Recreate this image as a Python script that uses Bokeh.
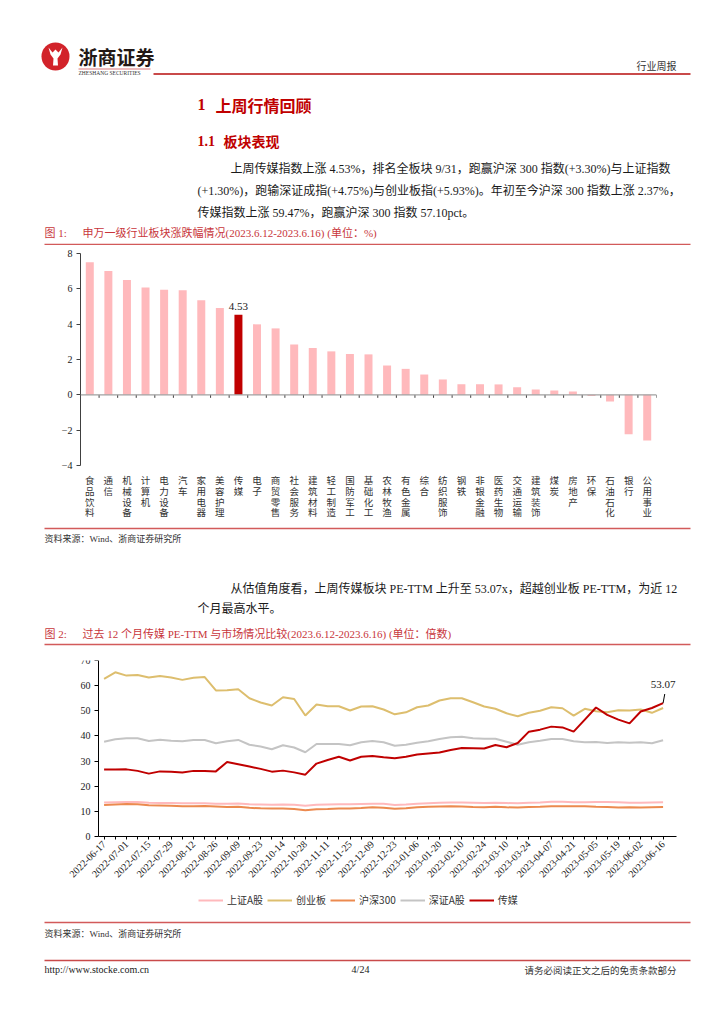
from math import pi
from bokeh.plotting import figure
from bokeh.layouts import column
from bokeh.models import (Range1d, FactorRange, FixedTicker, Legend, LegendItem,
                          Span, ColumnDataSource)
from bokeh.core.properties import value
from bokeh.embed import file_html
from bokeh.resources import INLINE

# ---------------- data ----------------
categories = ["食品饮料", "通信", "机械设备", "计算机", "电力设备", "汽车", "家用电器", "美容护理",
              "传媒", "电子", "商贸零售", "社会服务", "建筑材料", "轻工制造", "国防军工", "基础化工",
              "农林牧渔", "有色金属", "综合", "纺织服饰", "钢铁", "非银金融", "医药生物", "交通运输",
              "建筑装饰", "煤炭", "房地产", "环保", "石油石化", "银行", "公用事业"]
changes = [7.50, 7.01, 6.50, 6.07, 5.95, 5.92, 5.35, 4.91,
           4.53, 3.99, 3.76, 2.85, 2.65, 2.46, 2.31, 2.29,
           1.66, 1.47, 1.15, 0.87, 0.60, 0.60, 0.59, 0.43,
           0.30, 0.25, 0.19, -0.06, -0.38, -2.23, -2.59]
highlight = "传媒"
bar_ticks = [-4, -2, 0, 2, 4, 6, 8]

dates = ["2022-06-17", "2022-06-24", "2022-07-01", "2022-07-08", "2022-07-15", "2022-07-22",
         "2022-07-29", "2022-08-05", "2022-08-12", "2022-08-19", "2022-08-26", "2022-09-02",
         "2022-09-09", "2022-09-16", "2022-09-23", "2022-09-30", "2022-10-14", "2022-10-21",
         "2022-10-28", "2022-11-04", "2022-11-11", "2022-11-18", "2022-11-25", "2022-12-02",
         "2022-12-09", "2022-12-16", "2022-12-23", "2022-12-30", "2023-01-06", "2023-01-13",
         "2023-01-20", "2023-02-03", "2023-02-10", "2023-02-17", "2023-02-24", "2023-03-03",
         "2023-03-10", "2023-03-17", "2023-03-24", "2023-03-31", "2023-04-07", "2023-04-14",
         "2023-04-21", "2023-04-28", "2023-05-05", "2023-05-12", "2023-05-19", "2023-05-26",
         "2023-06-02", "2023-06-09", "2023-06-16"]
sh_a = [13.5, 13.6, 13.7, 13.7, 13.4, 13.3, 13.3, 13.2, 13.2, 13.2,
        13.0, 13.0, 13.1, 12.8, 12.7, 12.6, 12.7, 12.6, 12.2, 12.6,
        12.7, 12.8, 12.8, 12.9, 13.0, 13.0, 12.5, 12.7, 13.0, 13.2,
        13.4, 13.5, 13.5, 13.4, 13.3, 13.4, 13.3, 13.2, 13.4, 13.5,
        13.8, 13.8, 13.6, 13.6, 13.7, 13.7, 13.6, 13.4, 13.4, 13.5, 13.6]
cyb = [62.7, 65.3, 64.0, 64.2, 63.2, 63.8, 63.2, 62.3, 63.1, 63.4,
       58.1, 58.2, 58.6, 55.0, 53.3, 52.1, 55.4, 54.7, 48.1, 52.5,
       51.8, 51.8, 50.1, 51.7, 51.8, 50.5, 48.6, 49.4, 51.4, 52.1,
       54.1, 55.0, 55.0, 53.4, 51.7, 50.8, 49.0, 47.8, 49.2, 50.0,
       51.4, 51.0, 48.1, 50.8, 49.8, 49.4, 50.2, 50.1, 50.5, 49.2, 51.1]
hs300 = [12.5, 12.7, 12.9, 12.8, 12.4, 12.3, 12.2, 12.0, 12.0, 12.1,
         11.9, 11.7, 11.8, 11.4, 11.2, 11.1, 11.1, 10.9, 10.4, 10.8,
         10.9, 11.1, 11.1, 11.3, 11.6, 11.4, 11.0, 11.2, 11.6, 11.8,
         11.9, 12.0, 11.9, 11.7, 11.6, 11.8, 11.6, 11.5, 11.7, 11.8,
         12.0, 12.0, 12.0, 12.0, 11.8, 11.7, 11.5, 11.6, 11.5, 11.6, 11.7]
sz_a = [37.7, 38.7, 39.1, 39.1, 38.0, 38.5, 38.1, 37.9, 38.4, 38.4,
        37.1, 37.9, 38.4, 36.5, 35.8, 34.7, 36.3, 35.4, 33.5, 36.8,
        36.8, 36.8, 36.3, 37.5, 38.0, 37.5, 36.1, 36.5, 37.3, 37.9,
        38.8, 39.5, 39.7, 39.1, 38.9, 38.9, 37.7, 36.5, 37.5, 38.1,
        38.8, 38.8, 37.9, 37.5, 37.6, 37.2, 37.5, 37.3, 37.5, 37.1, 38.3]
media = [26.6, 26.6, 26.7, 26.1, 25.0, 25.9, 25.8, 25.5, 26.1, 26.1,
         25.9, 29.6, 28.7, 27.8, 26.9, 25.8, 26.2, 25.5, 24.6, 29.0,
         30.4, 31.7, 30.2, 31.7, 32.0, 31.5, 31.1, 31.7, 32.6, 33.0,
         33.4, 34.4, 35.2, 35.1, 35.0, 36.4, 35.5, 37.2, 41.7, 42.5,
         43.7, 43.4, 41.7, 46.5, 51.3, 48.4, 46.5, 45.0, 49.7, 51.1, 53.07]
series_names = ["上证A股", "创业板", "沪深300", "深证A股", "传媒"]
pe_ticks = [0, 10, 20, 30, 40, 50, 60, 70]

# ---------------- styles ----------------
SERIF = "'Liberation Serif', 'Noto Sans CJK SC'"
CJK = "'Noto Sans CJK SC'"
W = 724
RED = "#C00000"
CAP = "#C8363B"
RULE = "#D25A5A"
series_colors = ["#FFB9BC", "#DDBE6E", "#EC8A4F", "#C4C4C4", "#C00000"]


def page_fig(y0, y1):
    p = figure(width=W, height=y1 - y0, x_range=Range1d(0, W), y_range=Range1d(y1, y0),
               x_axis_type=None, y_axis_type=None, toolbar_location=None,
               output_backend="svg", min_border=0, frame_align=False)
    p.outline_line_color = None
    return p


def txt(p, x, y, s, size, color="#1a1a1a", font=SERIF, align="left", bold=False, **kw):
    p.text(x=[x], y=[y], text=[s], text_font=value(font), text_font_size=f"{size}px",
           text_color=color, text_align=align, text_baseline="middle",
           text_font_style="bold" if bold else "normal", **kw)


def rule(p, x0, x1, y, color=RULE, w=1.5, **kw):
    p.segment(x0=[x0], y0=[y], x1=[x1], y1=[y], line_color=color, line_width=w, **kw)


# ---------------- A: header and text ----------------
pA = page_fig(0, 245)
pA.scatter(x=[55], y=[56], size=28, marker="circle", fill_color="#D2232A", line_color=None)
pA.patch(x=[48, 52, 55, 58, 62, 60, 57, 57.5, 52.5, 53, 50],
         y=[47, 52, 49, 52, 47, 54, 58, 65, 65, 58, 54], fill_color="white", line_color=None)
txt(pA, 78, 56, "浙商证券", 19, color="#231815", font=CJK, bold=True)
rule(pA, 78, 150, 68.5, color="#E7A3A6", w=1.5)
txt(pA, 78, 72.5, "ZHESHANG SECURITIES", 5.5, color="#333333", font="Liberation Serif")
rule(pA, 153, 690, 73.5, color="#C94A4A", w=2.2)
txt(pA, 676, 65, "行业周报", 10, color="#333333", font=CJK, align="right")

txt(pA, 197, 104, "1", 16, color=RED, bold=True)
txt(pA, 215, 104, "上周行情回顾", 16, color=RED, font=CJK, bold=True)
txt(pA, 197, 140, "1.1", 14, color=RED, bold=True)
txt(pA, 223, 140, "板块表现", 14, color=RED, font=CJK, bold=True)

txt(pA, 230, 168, "上周传媒指数上涨 4.53%，排名全板块 9/31，跑赢沪深 300 指数(+3.30%)与上证指数", 12)
txt(pA, 197, 190, "(+1.30%)，跑输深证成指(+4.75%)与创业板指(+5.93%)。年初至今沪深 300 指数上涨 2.37%，", 12)
txt(pA, 197, 212, "传媒指数上涨 59.47%，跑赢沪深 300 指数 57.10pct。", 12)

txt(pA, 44, 232, "图 1:", 11, color=CAP)
txt(pA, 82, 232, "申万一级行业板块涨跌幅情况(2023.6.12-2023.6.16) (单位：%)", 11, color=CAP)
rule(pA, 44, 690, 244)

# ---------------- B: bar chart ----------------
px_per_unit = 212 / 12.0
ylo = -4 - (524 - 465) / px_per_unit
pB = figure(width=W, height=279, x_range=FactorRange(factors=categories, range_padding=0),
            y_range=Range1d(ylo, 8), toolbar_location=None, output_backend="svg",
            x_axis_location=None, min_border_left=80, min_border_right=68,
            min_border_top=8, min_border_bottom=0, frame_align=False)
pB.outline_line_color = None
pB.grid.visible = False
bar_colors = [RED if c == highlight else "#FFB9BC" for c in categories]
srcB = ColumnDataSource(dict(cat=categories, val=changes, color=bar_colors))
pB.vbar(x="cat", top="val", bottom=0, width=0.43, fill_color="color", line_color=None, source=srcB)
pB.add_layout(Span(location=0, dimension="width", line_color="#A0A0A0", line_width=1.2))
bounds = list(range(len(categories) + 1))
pB.segment(x0=bounds, y0=[0] * len(bounds), x1=bounds, y1=[-0.17] * len(bounds),
           line_color="#404040", line_width=1)
pB.text(x=categories, y=[-4.45] * len(categories), text=["\n".join(c) for c in categories],
        text_font=value(CJK), text_font_size="9.5px", text_color="#333333",
        text_align="center", text_baseline="top", text_line_height=0.76)
hi = categories.index(highlight)
pB.text(x=[highlight], y=[changes[hi]], text=[f"{changes[hi]:.2f}"], y_offset=-5,
        text_font=value("Liberation Serif"), text_font_size="11px", text_color="#1a1a1a",
        text_align="center", text_baseline="bottom")
ya = pB.yaxis[0]
ya.bounds = (-4, 8)
ya.ticker = FixedTicker(ticks=bar_ticks)
ya.minor_tick_line_color = None
ya.major_tick_in = 0
ya.major_tick_out = 4
ya.axis_line_color = "#404040"
ya.major_tick_line_color = "#404040"
ya.major_label_text_font = "Liberation Serif"
ya.major_label_text_font_size = "10px"
ya.major_label_text_color = "#1a1a1a"
ya.major_label_standoff = 4

# ---------------- C: middle text ----------------
pC = page_fig(524, 650)
rule(pC, 44, 690, 528)
txt(pC, 44, 538, "资料来源：Wind、浙商证券研究所", 9, color="#333333")
txt(pC, 230, 588, "从估值角度看，上周传媒板块 PE-TTM 上升至 53.07x，超越创业板 PE-TTM，为近 12", 12)
txt(pC, 197, 608, "个月最高水平。", 12)
txt(pC, 44, 633, "图 2:", 11, color=CAP)
txt(pC, 82, 633, "过去 12 个月传媒 PE-TTM 与市场情况比较(2023.6.12-2023.6.16) (单位：倍数)", 11, color=CAP)
rule(pC, 44, 690, 644)

# ---------------- D: line chart + footer ----------------
D_TOP = 650
FL, FR, FT, FB = 30, 694, 660, 977           # frame box on the page
AX_L, AX_R, AX_0 = 98, 676, 836              # where the axes sit on the page
x_lo, x_hi = -0.5, 51.2
ppx = (AX_R - AX_L) / (x_hi - x_lo)
ppy = (AX_0 - FT) / 70.0
pD = figure(width=W, height=1024 - D_TOP,
            x_range=Range1d(x_lo - (AX_L - FL) / ppx, x_hi + (FR - AX_R) / ppx),
            y_range=Range1d(-(FB - AX_0) / ppy, 70),
            toolbar_location=None, output_backend="svg",
            min_border_left=FL, min_border_right=W - FR, min_border_top=FT - D_TOP,
            min_border_bottom=1024 - FB, frame_align=False)
pD.extra_x_ranges = {"px": Range1d(FL, FR)}
pD.extra_y_ranges = {"px": Range1d(FB, FT)}
pD.outline_line_color = None
pD.grid.visible = False
xs = list(range(len(dates)))
items = []
for name, vals, col in zip(series_names, [sh_a, cyb, hs300, sz_a, media], series_colors):
    r = pD.line(x=xs, y=vals, line_color=col, line_width=2)
    items.append(LegendItem(label=name, renderers=[r]))
pD.segment(x0=[xs[-1]], y0=[media[-1]], x1=[xs[-1] + 0.15], y1=[media[-1] + 3.6],
           line_color="black", line_width=1)
pD.text(x=[xs[-1]], y=[media[-1]], text=[f"{media[-1]:.2f}"], y_offset=-19,
        text_font=value("Liberation Serif"), text_font_size="11px", text_color="#1a1a1a",
        text_align="center", text_baseline="middle")
xa = pD.xaxis[0]
xa.fixed_location = 0
xa.bounds = (x_lo, x_hi)
xa.ticker = FixedTicker(ticks=xs)
xa.major_label_overrides = {i: (dates[i] if i % 2 == 0 else "") for i in xs}
xa.major_label_orientation = pi / 4
xa.minor_tick_line_color = None
xa.major_tick_in = 0
xa.major_tick_out = 3
xa.major_label_standoff = 3
yb = pD.yaxis[0]
yb.fixed_location = x_lo
yb.bounds = (0, 70)
yb.ticker = FixedTicker(ticks=pe_ticks)
yb.minor_tick_line_color = None
yb.major_tick_in = 0
yb.major_tick_out = 4
yb.major_label_standoff = 4
for ax in (xa, yb):
    ax.axis_line_color = "black"
    ax.major_tick_line_color = "black"
    ax.major_label_text_font = "Liberation Serif"
    ax.major_label_text_font_size = "10px"
    ax.major_label_text_color = "#1a1a1a"
legend = Legend(items=items, orientation="horizontal", location=(198 - FL, FB - 907),
                border_line_color=None, background_fill_alpha=0, padding=2, margin=0,
                spacing=4, glyph_width=25, glyph_height=12, label_height=12, label_standoff=4,
                label_text_font=CJK, label_text_font_size="10px", label_text_color="#333333")
pD.add_layout(legend)

pg = dict(x_range_name="px", y_range_name="px")
rule(pD, 44, 690, 922, **pg)
txt(pD, 44, 933, "资料来源：Wind、浙商证券研究所", 9, color="#333333", **pg)
rule(pD, 44, 690, 960, color="#C94A4A", w=1.5, **pg)
txt(pD, 44, 969, "http://www.stocke.com.cn", 10, font="Liberation Serif", **pg)
txt(pD, 360, 969, "4/24", 10, font="Liberation Serif", align="center", **pg)
txt(pD, 676, 969, "请务必阅读正文之后的免责条款部分", 9.5, color="#333333", font=CJK,
    align="right", **pg)

page = column(pA, pB, pC, pD, spacing=0)
open("out.html", "w").write(file_html(page, INLINE, title="行业周报"))
